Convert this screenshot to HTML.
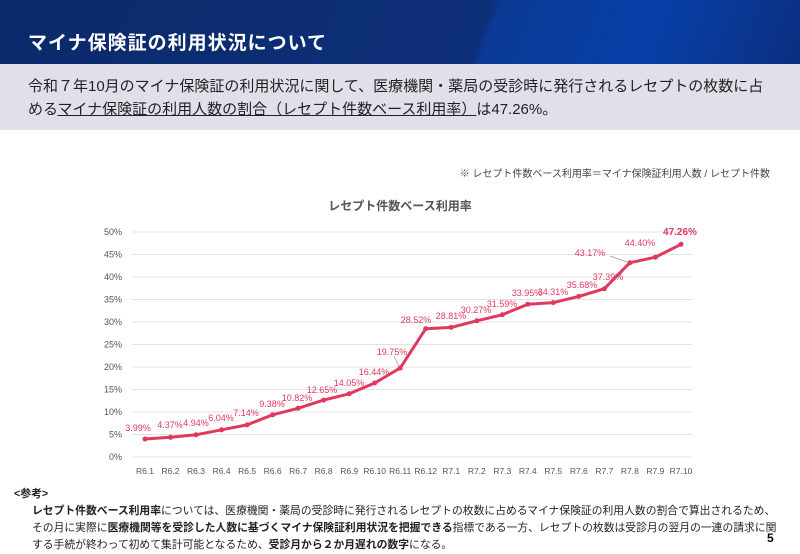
<!DOCTYPE html>
<html><head><meta charset="utf-8"><style>
body{margin:0;width:800px;height:552px;overflow:hidden;background:#fff;font-family:"Liberation Sans","Noto Sans CJK JP",sans-serif;position:relative}
.hdr{position:absolute;left:0;top:0;width:800px;height:64px;background:linear-gradient(110deg,#0b2a6b 0%,#0d2f78 60%,#0a3a95 61%,#0840a8 80%,#0a2f80 100%)}
.hdr span{position:absolute;left:28px;top:28px;color:#fff;font-size:19px;font-weight:bold;letter-spacing:1px}
.band{position:absolute;left:0;top:64px;width:800px;height:66px;background:#e2dfea}
.band p{margin:0;position:absolute;left:28px;top:11px;font-size:15px;line-height:23px;color:#222}
.note{position:absolute;right:30px;top:165px;font-size:10px;color:#444}
.ref{position:absolute;left:14px;top:486px;font-size:10.8px;line-height:17px;color:#222}
.ref b{font-weight:bold}
.pg{position:absolute;left:767px;top:531px;font-size:12px;font-weight:bold}
</style></head><body>
<div class="hdr"><span>マイナ保険証の利用状況について</span></div>
<div class="band"><p>令和７年10月のマイナ保険証の利用状況に関して、医療機関・薬局の受診時に発行されるレセプトの枚数に占<br>める<u>マイナ保険証の利用人数の割合（レセプト件数ベース利用率）</u>は47.26%。</p></div>
<div class="note">※ レセプト件数ベース利用率＝マイナ保険証利用人数 / レセプト件数</div>
<svg style="position:absolute;left:0;top:0" width="800" height="552" font-family="Liberation Sans, Noto Sans CJK JP, sans-serif">
<text x="400" y="210" font-size="12" font-weight="bold" fill="#555" text-anchor="middle">レセプト件数ベース利用率</text>
<g stroke="#e3e3e3" stroke-width="1">
<line x1="132" x2="692" y1="232" y2="232"/><line x1="132" x2="692" y1="254.5" y2="254.5"/><line x1="132" x2="692" y1="277" y2="277"/><line x1="132" x2="692" y1="299.5" y2="299.5"/><line x1="132" x2="692" y1="322" y2="322"/><line x1="132" x2="692" y1="344.5" y2="344.5"/><line x1="132" x2="692" y1="367" y2="367"/><line x1="132" x2="692" y1="389.5" y2="389.5"/><line x1="132" x2="692" y1="412" y2="412"/><line x1="132" x2="692" y1="434.5" y2="434.5"/><line x1="132" x2="692" y1="457" y2="457"/>
</g>
<g font-size="9" fill="#555" text-anchor="end">
<text x="122" y="235">50%</text><text x="122" y="257.5">45%</text><text x="122" y="280">40%</text><text x="122" y="302.5">35%</text><text x="122" y="325">30%</text><text x="122" y="347.5">25%</text><text x="122" y="370">20%</text><text x="122" y="392.5">15%</text><text x="122" y="415">10%</text><text x="122" y="437.5">5%</text><text x="122" y="460">0%</text>
</g>
<g font-size="8.5" fill="#555" text-anchor="middle">
<text x="145" y="474">R6.1</text><text x="170.5" y="474">R6.2</text><text x="196" y="474">R6.3</text><text x="221.6" y="474">R6.4</text><text x="247.1" y="474">R6.5</text><text x="272.6" y="474">R6.6</text><text x="298.1" y="474">R6.7</text><text x="323.6" y="474">R6.8</text><text x="349.2" y="474">R6.9</text><text x="374.7" y="474">R6.10</text><text x="400.2" y="474">R6.11</text><text x="425.7" y="474">R6.12</text><text x="451.2" y="474">R7.1</text><text x="476.8" y="474">R7.2</text><text x="502.3" y="474">R7.3</text><text x="527.8" y="474">R7.4</text><text x="553.3" y="474">R7.5</text><text x="578.8" y="474">R7.6</text><text x="604.4" y="474">R7.7</text><text x="629.9" y="474">R7.8</text><text x="655.4" y="474">R7.9</text><text x="681" y="474">R7.10</text>
</g>
<line x1="394" y1="356" x2="399" y2="366" stroke="#999" stroke-width="0.8"/>
<line x1="610" y1="256" x2="627" y2="262" stroke="#999" stroke-width="0.8"/>
<polyline fill="none" stroke="#e0395e" stroke-width="3" stroke-linejoin="round" points="145,439 170.5,437.3 196,434.8 221.6,429.8 247.1,424.9 272.6,414.8 298.1,408.3 323.6,400.1 349.2,393.8 374.7,383 400.2,368.1 425.7,328.7 451.2,327.4 476.8,320.8 502.3,314.8 527.8,304.2 553.3,302.6 578.8,296.4 604.4,288.7 629.9,262.7 655.4,257.2 681,244.3"/>
<g fill="#e0395e">
<circle cx="145" cy="439" r="2.5"/><circle cx="170.5" cy="437.3" r="2.5"/><circle cx="196" cy="434.8" r="2.5"/><circle cx="221.6" cy="429.8" r="2.5"/><circle cx="247.1" cy="424.9" r="2.5"/><circle cx="272.6" cy="414.8" r="2.5"/><circle cx="298.1" cy="408.3" r="2.5"/><circle cx="323.6" cy="400.1" r="2.5"/><circle cx="349.2" cy="393.8" r="2.5"/><circle cx="374.7" cy="383" r="2.5"/><circle cx="400.2" cy="368.1" r="2.5"/><circle cx="425.7" cy="328.7" r="2.5"/><circle cx="451.2" cy="327.4" r="2.5"/><circle cx="476.8" cy="320.8" r="2.5"/><circle cx="502.3" cy="314.8" r="2.5"/><circle cx="527.8" cy="304.2" r="2.5"/><circle cx="553.3" cy="302.6" r="2.5"/><circle cx="578.8" cy="296.4" r="2.5"/><circle cx="604.4" cy="288.7" r="2.5"/><circle cx="629.9" cy="262.7" r="2.5"/><circle cx="655.4" cy="257.2" r="2.5"/><circle cx="681" cy="244.3" r="2.5"/>
</g>
<g font-size="9" fill="#e0395e" text-anchor="middle">
<text x="138" y="431">3.99%</text><text x="170" y="428">4.37%</text><text x="196" y="426">4.94%</text><text x="221" y="421">6.04%</text><text x="246" y="416">7.14%</text><text x="272" y="407">9.38%</text><text x="297" y="401">10.82%</text><text x="322" y="393">12.65%</text><text x="349" y="386">14.05%</text><text x="374" y="375">16.44%</text><text x="392" y="355">19.75%</text><text x="416" y="323">28.52%</text><text x="451" y="319">28.81%</text><text x="476" y="313">30.27%</text><text x="502" y="307">31.59%</text><text x="527" y="296">33.95%</text><text x="553" y="295">34.31%</text><text x="582" y="288">35.68%</text><text x="608" y="280">37.39%</text><text x="590" y="256">43.17%</text><text x="640" y="246">44.40%</text>
<text x="680" y="235" font-size="10" font-weight="bold">47.26%</text>
</g>
</svg>
<div class="ref"><b>&lt;参考&gt;</b><br>
<span style="padding-left:18px"><b>レセプト件数ベース利用率</b>については、医療機関・薬局の受診時に発行されるレセプトの枚数に占めるマイナ保険証の利用人数の割合で算出されるため、</span><br>
<span style="padding-left:18px">その月に実際に<b>医療機関等を受診した人数に基づくマイナ保険証利用状況を把握できる</b>指標である一方、レセプトの枚数は受診月の翌月の一連の請求に関</span><br>
<span style="padding-left:18px">する手続が終わって初めて集計可能となるため、<b>受診月から２か月遅れの数字</b>になる。</span></div>
<div class="pg">5</div>
</body></html>
